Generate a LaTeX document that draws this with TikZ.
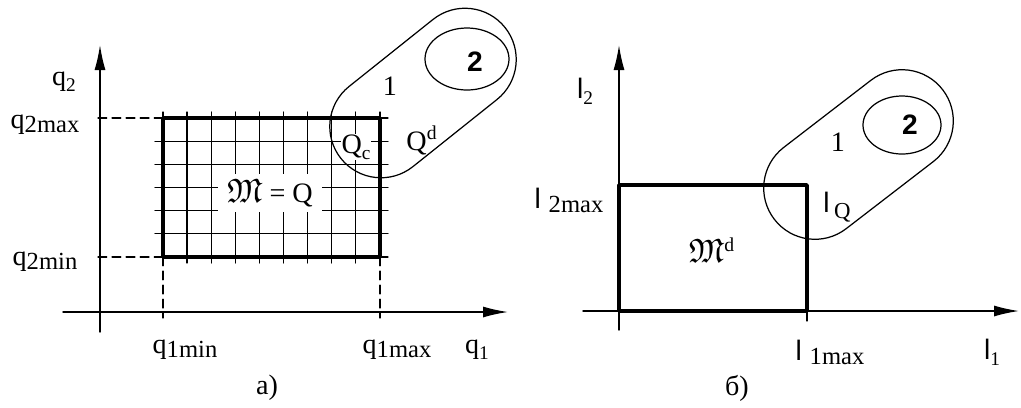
\documentclass[tikz,border=0pt]{standalone}
\usepackage{amssymb}
\usepackage{fontspec}
\setmainfont{Liberation Serif}
\setsansfont{Liberation Sans}
\usetikzlibrary{arrows.meta,shapes.misc}
\newcommand{\lowsub}[1]{\raisebox{-0.3ex}{\fontsize{14}{14}\selectfont #1}}
\newcommand{\smallsub}[1]{\raisebox{-0.45ex}{\fontsize{11}{11}\selectfont #1}}
\newcommand{\elsym}{{\sffamily l}}
\newcommand{\bigM}{\scalebox{1.2}{$\mathfrak{M}$}}
\begin{document}
\begin{tikzpicture}[x=0.02cm,y=-0.02cm,line cap=round,line join=round,
  >={Latex[length=5mm,width=2.2mm]},
  font=\fontsize{16}{18}\selectfont,
  axis/.style={line width=0.8pt,->},
  gridline/.style={line width=0.7pt},
  limit/.style={line width=0.7pt,dash pattern=on 5pt off 3pt},
  frame/.style={line width=2pt},
  blob/.style={draw,line width=0.7pt,rounded rectangle,inner sep=0pt,minimum height=2.05cm}]
  \useasboundingbox (0,0) rectangle (1021,407);
  \foreach \i in {0,...,9}
    \draw[gridline] ({163+24.11*\i},112) -- ({163+24.11*\i},263);
  \foreach \j in {0,...,6}
    \draw[gridline] (155,{118+23.17*\j}) -- (388,{118+23.17*\j});
  \draw[frame] (163,118) rectangle (380,257);
  \draw[limit] (98,118) -- (163,118);
  \draw[limit] (98,257) -- (163,257);
  \draw[limit] (163,257) -- (163,318);
  \draw[limit] (380,257) -- (380,318);
  \draw[axis] (100,332) -- (100,45);
  \draw[axis] (63,312) -- (508,312);
  \node[fill=white,inner xsep=5pt,inner ysep=3pt] (mq) at (270,193) {\bigM\ = Q};
  \node[fill=white,inner sep=0.5pt] (qc) at (356,147) {Q\smallsub{c}};
  \node[blob,minimum width=4.2cm,rotate=38.6] (qda) at (423,93) {};
  \draw[gridline] (467,59) ellipse [x radius=42, y radius=31];
  \node (one) at (390,86) {1};
  \node (two) at (475,62) {\sffamily\bfseries 2};
  \node (qd) at (422,140) {Q\textsuperscript{d}};
  \node (q2) at (64,82) {q\smallsub{2}};
  \node (q2max) at (45,125) {q\lowsub{2max}};
  \node (q2min) at (45,262) {q\lowsub{2min}};
  \node (q1min) at (185,350) {q\lowsub{1min}};
  \node (q1max) at (397,350) {q\lowsub{1max}};
  \node (q1) at (477,350) {q\smallsub{1}};
  \node (capa) at (267,388) {a)};
  \draw[axis] (619,330) -- (619,45);
  \draw[axis] (583,311) -- (1019,311);
  \draw[frame] (619,185) rectangle (807,311);
  \draw[gridline] (807,311) -- (807,321);
  \node[blob,minimum width=4.25cm,rotate=37.6] (qdb) at (858.5,154.5) {};
  \draw[gridline] (902,125) ellipse [x radius=39, y radius=29];
  \node (oneb) at (838,142) {1};
  \node (twob) at (910,125) {\sffamily\bfseries 2};
  \node (lq) at (837,207) {\elsym\,\smallsub{\fontsize{13}{13}\selectfont Q}};
  \node (md) at (712,250) {\bigM\textsuperscript{d}};
  \node (l2) at (585,91) {\elsym\smallsub{2}};
  \node (l2max) at (569,200) {\elsym\;\lowsub{2max}};
  \node (l1max) at (830,352) {\elsym\;\lowsub{1max}};
  \node (l1) at (992,352) {\elsym\smallsub{1}};
  \node (capb) at (737,388) {б)};
\end{tikzpicture}
\end{document}
